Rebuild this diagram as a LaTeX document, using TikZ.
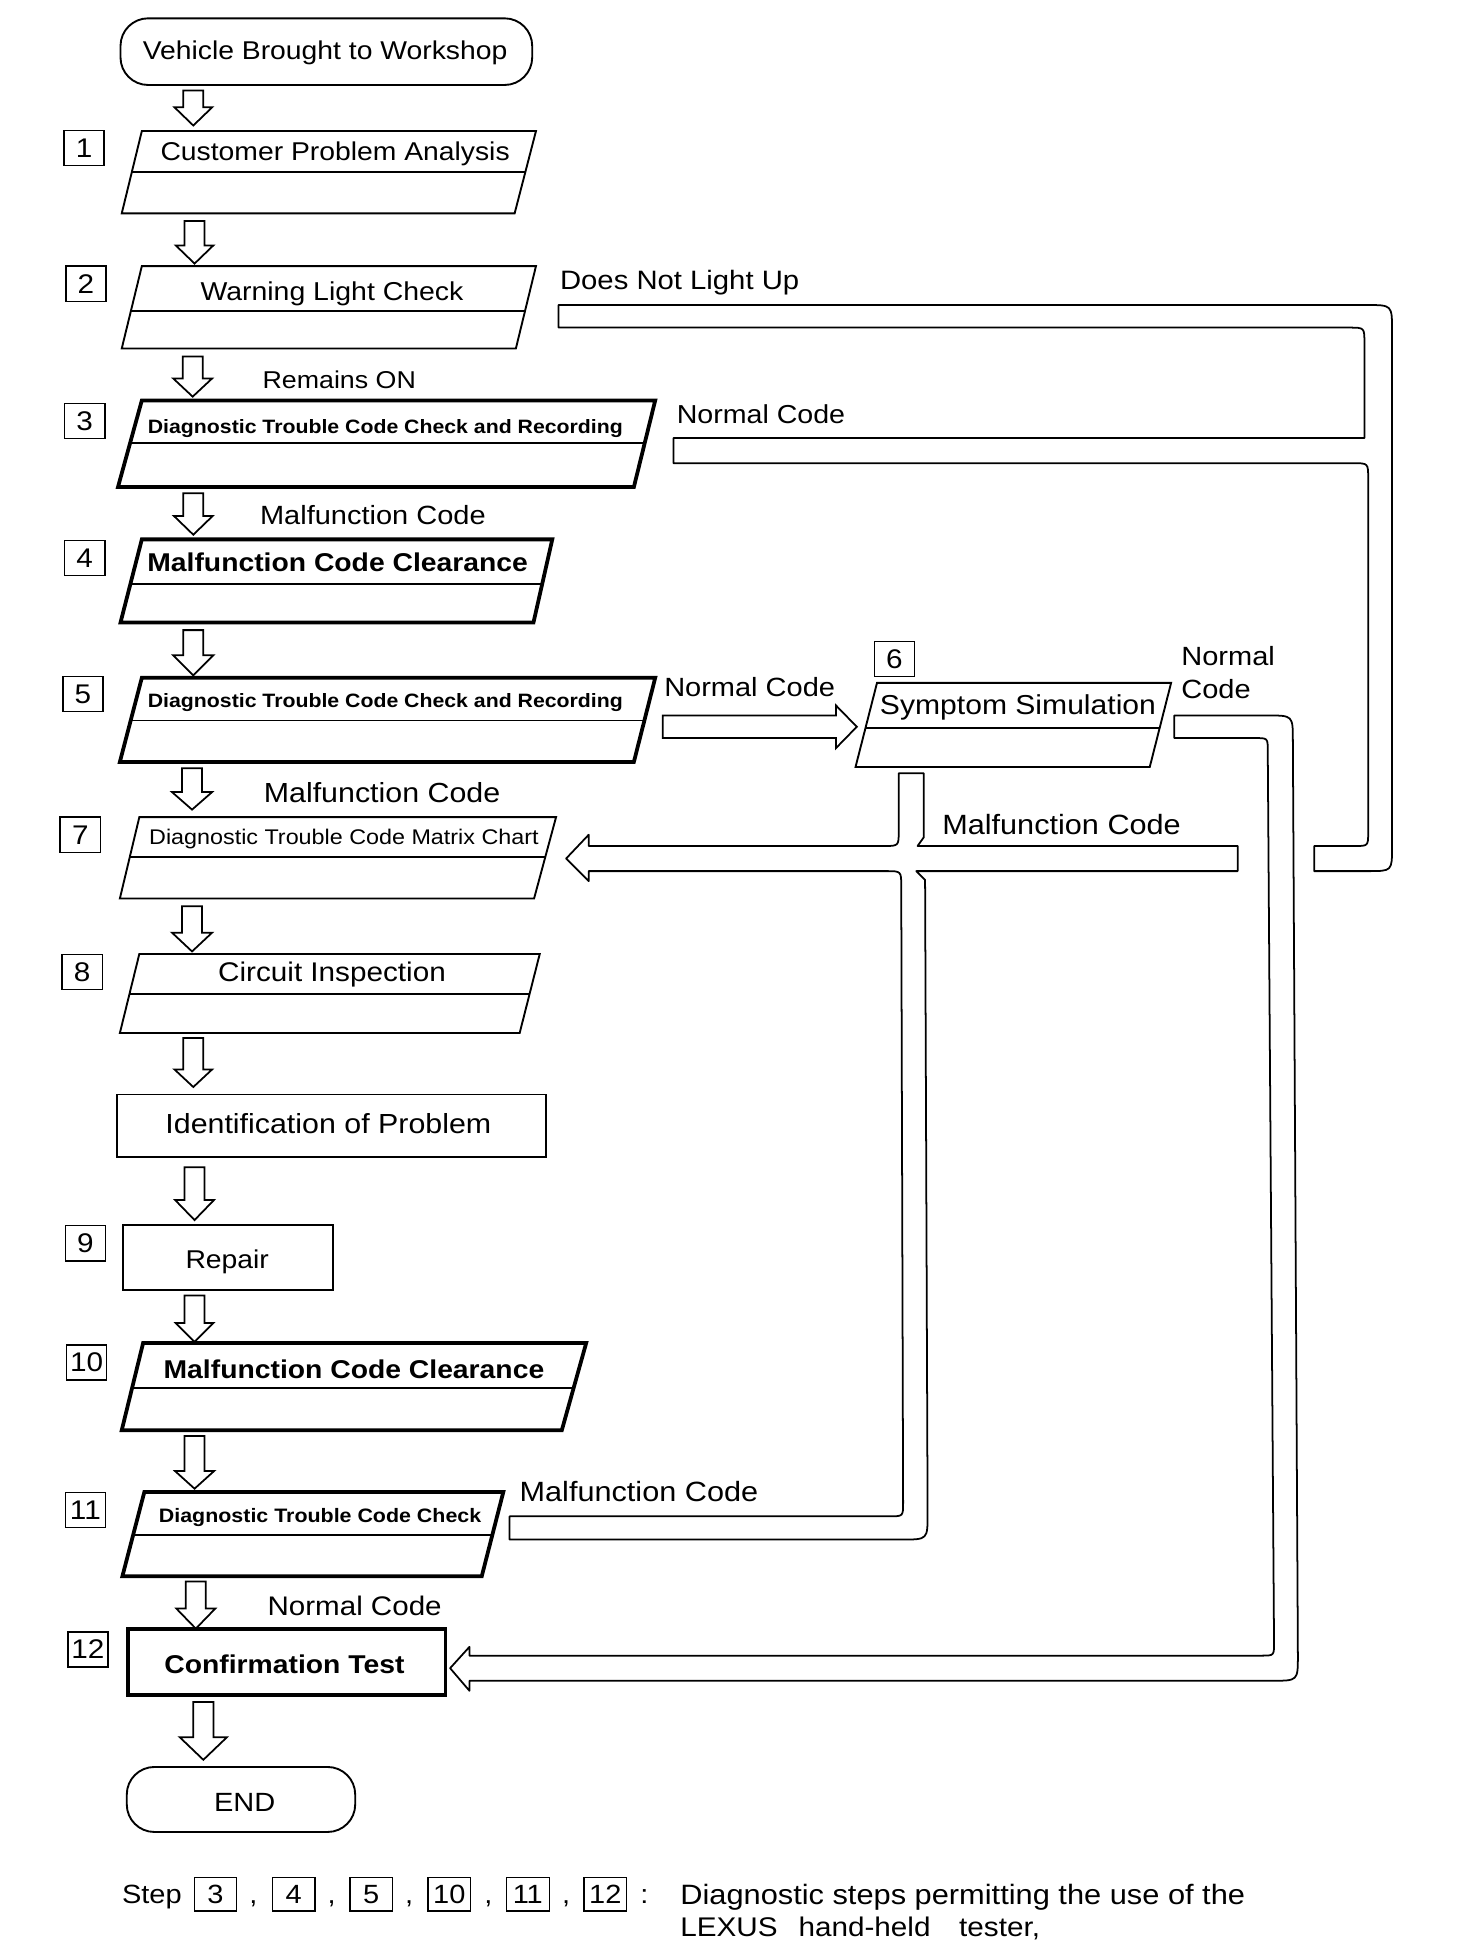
\documentclass[tikz,border=0pt]{standalone}
\usepackage{fontspec}
\setmainfont{Liberation Sans}[FakeStretch=1.1]
\usetikzlibrary{calc}
\newcommand\fsz[1]{\fontsize{#1}{#1}\selectfont}
% hollow block arrow pointing down from named coordinate #1 to tip #2
\newcommand\downarr[4]{%
  \draw[blk] let \p1=(#1), \p2=(#2) in
    (\x1-8pt,\y1) -- (\x1+8pt,\y1) -- (\x1+8pt,\y2+#4pt) -- (\x1+#3pt,\y2+#4pt)
    -- (\x1,\y2) -- (\x1-#3pt,\y2+#4pt) -- (\x1-8pt,\y2+#4pt) -- cycle;}
\begin{document}
\begin{tikzpicture}[x=1pt,y=-1pt,
  bd/.style={line width=1.5pt, line join=miter},
  bdk/.style={line width=3pt, line join=miter},
  pipe/.style={line width=1.4pt, line join=round},
  blk/.style={line width=1.4pt, line join=miter},
  num/.style={draw, line width=1.2pt, minimum width=32pt, minimum height=28pt, inner sep=0pt, font=\fsz{21.5}},
  fnum/.style={num, minimum width=34pt, minimum height=27pt, line width=1pt, font=\fsz{21}},
  txt/.style={inner sep=0pt, anchor=base},
  lab/.style={inner sep=0pt, anchor=base west},
]
\fill[white] (0,0) rectangle (1160,1561.5);
\useasboundingbox (0,0) rectangle (1160,1561.5);

% ---------- terminal ----------
\draw[bd, rounded corners=22] (96,14.6) rectangle (424,67.7);
\node[txt, font=\fsz{20.5}] (t0) at (259,47) {Vehicle Brought to Workshop};

% ---------- parallelograms ----------
% P1
\draw[bd] (113,104.4) -- (427,104.4) -- (410,170) -- (97,170) -- cycle;
\draw[bd] (105.1,136.8) -- (418.6,136.8);
\node[txt, font=\fsz{20.5}] (s1) at (267,127.5) {Customer Problem Analysis};
% P2
\draw[bd] (113,212) -- (427,212) -- (411,277.6) -- (97,277.6) -- cycle;
\draw[bd] (104.2,248) -- (418.2,248);
\node[txt, font=\fsz{20.6}] (s2) at (264.5,239) {Warning Light Check};
% P3
\draw[bdk] (113,319) -- (522,319) -- (505,388) -- (94,388) -- cycle;
\draw[bd] (103.6,353) -- (513.6,353);
\node[txt, font=\fsz{15.4}\bfseries] (s3) at (307,345) {Diagnostic Trouble Code Check and Recording};
% P4
\draw[bdk] (113,429.7) -- (440,429.7) -- (425,496) -- (96,496) -- cycle;
\draw[bd] (104,465) -- (432,465);
\node[txt, font=\fsz{20.5}\bfseries] (s4) at (269,455.5) {Malfunction Code Clearance};
% P5
\draw[bdk] (113,540) -- (522,540) -- (505,607) -- (95.5,607) -- cycle;
\draw[bd] (104.1,574) -- (513.4,574);
\node[txt, font=\fsz{15.4}\bfseries] (s5) at (307,563.6) {Diagnostic Trouble Code Check and Recording};
% P6
\draw[bd] (698.7,544) -- (933,544) -- (916,611) -- (681.6,611) -- cycle;
\draw[bd] (689.5,580) -- (923.9,580);
\node[txt, font=\fsz{21.8}] (s6) at (811,569) {Symptom Simulation};
% P7
\draw[bd] (111,651) -- (443,651) -- (425.5,715.8) -- (95.5,715.8) -- cycle;
\draw[bd] (103.3,683) -- (434.4,683);
\node[txt, font=\fsz{16.9}] (s7) at (274,673) {Diagnostic Trouble Code Matrix Chart};
% P8
\draw[bd] (111,760) -- (430,760) -- (414,823) -- (95.5,823) -- cycle;
\draw[bd] (103.1,792) -- (421.9,792);
\node[txt, font=\fsz{21.5}] (s8) at (264.5,782) {Circuit Inspection};
% Identification
\draw[bd] (93,872) rectangle (435,922);
\node[txt, font=\fsz{22}] (sid) at (261.6,903) {Identification of Problem};
% Repair
\draw[bd] (98,976) rectangle (265.6,1028);
\node[txt, font=\fsz{20.5}] (s9) at (181,1010.5) {Repair};
% P10
\draw[bdk] (114,1070) -- (467,1070) -- (447.6,1139.4) -- (97,1139.4) -- cycle;
\draw[bd] (105.3,1105.7) -- (457,1105.7);
\node[txt, font=\fsz{20.5}\bfseries] (s10) at (282,1098) {Malfunction Code Clearance};
% P11
\draw[bdk] (115,1188.6) -- (401,1188.6) -- (383.8,1255.8) -- (97.5,1255.8) -- cycle;
\draw[bd] (106.1,1222.6) -- (392.3,1222.6);
\node[txt, font=\fsz{15.5}\bfseries] (s11) at (255,1213) {Diagnostic Trouble Code Check};
% Confirmation
\draw[bdk] (101.7,1298) rectangle (355,1350.6);
\node[txt, font=\fsz{20.5}\bfseries] (s12) at (226.6,1333) {Confirmation Test};
% END
\draw[bd, rounded corners=22] (101,1407.7) rectangle (283,1459.5);
\node[txt, font=\fsz{21}] (send) at (195,1443) {END};

% ---------- step numbers ----------
\node[num] (n1) at (67,118) {1};
\node[num] (n2) at (68.5,226) {2};
\node[num] (n3) at (67.5,335.5) {3};
\node[num] (n4) at (67.5,444.5) {4};
\node[num] (n5) at (66,553) {5};
\node[num] (n6) at (712.5,525) {6};
\node[num] (n7) at (64,665) {7};
\node[num] (n8) at (65.5,774.5) {8};
\node[num] (n9) at (68,990.5) {9};
\node[num] (n10) at (69,1085.5) {10};
\node[num] (n11) at (68,1203) {11};
\node[num] (n12) at (70,1314) {12};

% ---------- vertical block arrows ----------
\coordinate (a1s) at (154,72);    \coordinate (a1e) at (154,100);
\coordinate (a2s) at (155,176);   \coordinate (a2e) at (155,210);
\coordinate (a3s) at (153.5,284); \coordinate (a3e) at (153.5,316);
\coordinate (a4s) at (154,393);   \coordinate (a4e) at (154,426);
\coordinate (a5s) at (154,502);   \coordinate (a5e) at (154,538);
\coordinate (a6s) at (153,612);   \coordinate (a6e) at (153,645);
\coordinate (a7s) at (153,722);   \coordinate (a7e) at (153,758);
\coordinate (a8s) at (154,827);   \coordinate (a8e) at (154,866);
\coordinate (a9s) at (155,930);   \coordinate (a9e) at (155,972);
\coordinate (a10s) at (155,1032); \coordinate (a10e) at (155,1069);
\coordinate (a11s) at (155,1144); \coordinate (a11e) at (155,1186);
\coordinate (a12s) at (156,1260); \coordinate (a12e) at (156,1297.5);
\coordinate (a13s) at (162,1356); \coordinate (a13e) at (162,1402);
\downarr{a1s}{a1e}{15}{14.5}
\downarr{a2s}{a2e}{15}{14.5}
\downarr{a3s}{a3e}{15.5}{14.5}
\downarr{a4s}{a4e}{15.5}{15}
\downarr{a5s}{a5e}{16}{16}
\downarr{a6s}{a6e}{16}{14}
\downarr{a7s}{a7e}{16}{15}
\downarr{a8s}{a8e}{15}{14}
\downarr{a9s}{a9e}{15.5}{16}
\downarr{a10s}{a10e}{15}{15}
\downarr{a11s}{a11e}{15.5}{14}
\downarr{a12s}{a12e}{15.5}{16}
\downarr{a13s}{a13e}{18.8}{18}

% ---------- horizontal arrow 5 -> 6 ----------
\draw[blk] (528,570) -- (666,570) -- (666,562) -- (682.6,579) -- (666,596) -- (666,588) -- (528,588) -- cycle;

% ---------- pipe A : step 2 / step 3 -> step 7 ----------
\draw[pipe] (445,243) -- (1089,243) .. controls (1109,243) .. (1109,263)
  -- (1109,675) .. controls (1109,694) .. (1090,694)
  -- (1047,694) -- (1047,674) -- (1079,674) .. controls (1090,674) .. (1090,663)
  -- (1090,381) .. controls (1090,369) .. (1078,369)
  -- (536.5,369) -- (536.5,349) -- (1087,349) -- (1087,273) .. controls (1087,261) .. (1075,261)
  -- (445,261) -- cycle;

% ---------- pipe B : step 6 normal -> step 12 ----------
\draw[pipe] (935.5,570) -- (1010,570) .. controls (1030,570) .. (1030,590)
  -- (1034,1319) .. controls (1034,1339) .. (1014,1339)
  -- (374,1339) -- (374,1347) -- (358.6,1329) -- (374,1312) -- (374,1319)
  -- (1005,1319) .. controls (1015,1319) .. (1015,1309)
  -- (1010,598) .. controls (1010,588) .. (1000,588)
  -- (935.5,588) -- cycle;

% ---------- pipe C : step 6 / step 11 malfunction -> step 7 ----------
\draw[pipe] (716,616) -- (736,616) -- (736,667) -- (731,674) -- (986,674) -- (986,694) -- (730,694) -- (737,701)
  -- (739,1206) .. controls (739,1226.5) .. (719,1226.5)
  -- (406,1226.5) -- (406,1208) -- (709,1208) .. controls (719.5,1208) .. (719.5,1197)
  -- (718,706) .. controls (718,694) .. (706,694)
  -- (469,694) -- (469,702) -- (451,684) -- (469,665) -- (469,674)
  -- (704,674) .. controls (716,674) .. (716,662) -- cycle;

% ---------- labels ----------
\node[lab, font=\fsz{21.2}] (l2) at (446,231) {Does Not Light Up};
\node[lab, font=\fsz{19.4}] (l3a) at (209,309.5) {Remains ON};
\node[lab, font=\fsz{20.7}] (l3b) at (539,337) {Normal Code};
\node[lab, font=\fsz{21}] (l4) at (207,417.5) {Malfunction Code};
\node[lab, font=\fsz{21}] (l5) at (529,555) {Normal Code};
\node[lab, font=\fsz{22}] (l7) at (210,639) {Malfunction Code};
\node[lab, font=\fsz{21}] (l6a) at (941,530) {Normal};
\node[lab, font=\fsz{21}] (l6b) at (941,556.5) {Code};
\node[lab, font=\fsz{22.2}] (l6c) at (750.5,665) {Malfunction Code};
\node[lab, font=\fsz{22.2}] (l11) at (413.8,1196.5) {Malfunction Code};
\node[lab, font=\fsz{21.4}] (l12) at (213,1287) {Normal Code};

% ---------- footer ----------
\node[lab, font=\fsz{21}] (fstep) at (97,1516.6) {Step};
\node[fnum] (f3) at (171.7,1509) {3};
\node[fnum] (f4) at (234,1509) {4};
\node[fnum] (f5) at (295.8,1509) {5};
\node[fnum] (f10) at (358,1509) {10};
\node[fnum] (f11) at (420.5,1509) {11};
\node[fnum] (f12) at (482.2,1509) {12};
\node[txt, font=\fsz{21}] (c1) at (201.8,1516.6) {,};
\node[txt, font=\fsz{21}] (c2) at (264.3,1516.6) {,};
\node[txt, font=\fsz{21}] (c3) at (326,1516.6) {,};
\node[txt, font=\fsz{21}] (c4) at (389,1516.6) {,};
\node[txt, font=\fsz{21}] (c5) at (451,1516.6) {,};
\node[txt, font=\fsz{21}] (colon) at (513.4,1516.6) {:};
\node[lab, font=\fsz{22.3}] (fd1) at (541.8,1517) {Diagnostic steps permitting the use of the};
\node[lab, font=\fsz{21.5}] (fd2a) at (541.8,1542.5) {LEXUS};
\node[lab, font=\fsz{21.5}] (fd2b) at (636,1542.5) {hand-held};
\node[lab, font=\fsz{21.5}] (fd2c) at (764,1542.5) {tester,};
\end{tikzpicture}
\end{document}
